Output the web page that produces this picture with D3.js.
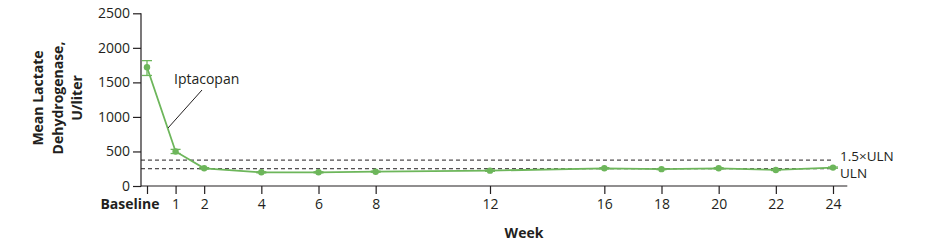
<!DOCTYPE html>
<html>
<head>
<meta charset="utf-8">
<script src="https://cdn.jsdelivr.net/npm/d3@7"></script>
<style>
	body { margin: 0; background: #fff; }
	text { font-family: "Open Sans", sans-serif; fill: #231f20; }
</style>
</head>
<body>
<svg id="chart" width="925" height="247"></svg>
<script>
// weeks and mean LDH (U/liter)
var weeks = [0, 1, 2, 4, 6, 8, 12, 16, 18, 20, 22, 24];
var weekLabels = ['Baseline', '1', '2', '4', '6', '8', '12', '16', '18', '20', '22', '24'];
var meanLdh = [1718, 500, 256, 198, 198, 207, 222, 256, 244, 256, 232, 266];
var errLow = [1600, 470, 246, 190, 190, 199, 213, 247, 236, 247, 224, 257];
var errHigh = [1815, 530, 266, 206, 206, 215, 231, 265, 252, 265, 240, 275];
var yTicks = [0, 500, 1000, 1500, 2000, 2500];
var refNames = ['1.5\u00d7ULN', 'ULN'];
var refValues = [375, 250];

var green = '#6db65b';
var ink = '#231f20';

var svg = d3.select('#chart');

var x = d3.scaleLinear().domain([0, 24]).range([147, 833]);
var y = d3.scaleLinear().domain([0, 2500]).range([186, 13.3]);
var axisX = x(-0.21);

// reference lines
refValues.forEach(function(v, i) {
	svg.append('line')
		.attr('x1', axisX).attr('x2', x(24))
		.attr('y1', y(v)).attr('y2', y(v))
		.style('stroke', ink)
		.style('stroke-width', 1)
		.style('stroke-dasharray', '4,3');
	svg.append('text')
		.attr('x', x(24) + 7)
		.attr('y', y(v) + (i == 0 ? 0.5 : 9.5))
		.style('font-size', '13.5px')
		.text(refNames[i]);
});

// y axis
var yAxis = svg.append('g')
	.attr('transform', 'translate(' + axisX + ',0)')
	.call(d3.axisLeft(y).tickValues(yTicks).tickSize(8).tickPadding(3).tickFormat(d3.format('d')));
yAxis.select('.domain').remove();
yAxis.selectAll('line').style('stroke', ink).style('stroke-width', 1.2);
yAxis.selectAll('text').style('font-size', '14px').style('font-family', '"Open Sans", sans-serif').attr('fill', ink);
svg.append('line')
	.attr('x1', axisX).attr('x2', axisX)
	.attr('y1', y(0) + 0.5).attr('y2', y(2500))
	.style('stroke', ink).style('stroke-width', 1.2);

// x axis
var xAxis = svg.append('g')
	.attr('transform', 'translate(0,' + y(0) + ')')
	.call(d3.axisBottom(x).tickValues(weeks).tickSize(8).tickPadding(5)
		.tickFormat(function(d, i) { return weekLabels[i]; }));
xAxis.select('.domain').remove();
xAxis.selectAll('line').style('stroke', ink).style('stroke-width', 1.2);
xAxis.selectAll('text').style('font-size', '14px').style('font-family', '"Open Sans", sans-serif').attr('fill', ink);
xAxis.selectAll('.tick').filter(function(d) { return d == 0; }).select('text')
	.attr('text-anchor', 'end')
	.attr('x', 12)
	.style('font-weight', 'bold');
svg.append('line')
	.attr('x1', axisX).attr('x2', x(24.5))
	.attr('y1', y(0)).attr('y2', y(0))
	.style('stroke', ink).style('stroke-width', 1.2);

// axis titles
svg.append('text')
	.attr('x', 524).attr('y', 238)
	.attr('text-anchor', 'middle')
	.style('font-size', '14px')
	.style('font-weight', 'bold')
	.text('Week');

var yTitle = svg.append('text')
	.attr('transform', 'translate(43,98) rotate(-90)')
	.attr('text-anchor', 'middle')
	.style('font-size', '14px')
	.style('font-weight', 'bold');
['Mean Lactate', 'Dehydrogenase,', 'U/liter'].forEach(function(s, i) {
	yTitle.append('tspan').attr('x', 0).attr('dy', i == 0 ? 0 : 19.5).text(s);
});

// series
var idx = d3.range(weeks.length);
var line = d3.line()
	.x(function(i) { return x(weeks[i]); })
	.y(function(i) { return y(meanLdh[i]); });

var bars = svg.append('g').attr('class', 'errorbars');
idx.forEach(function(i) {
	var cx = x(weeks[i]);
	bars.append('line')
		.attr('x1', cx).attr('x2', cx)
		.attr('y1', y(errLow[i])).attr('y2', y(errHigh[i]));
	[errLow[i], errHigh[i]].forEach(function(v) {
		bars.append('line')
			.attr('x1', cx - 5).attr('x2', cx + 5)
			.attr('y1', y(v)).attr('y2', y(v));
	});
});
bars.selectAll('line').style('stroke', green).style('stroke-width', 1.3);

svg.append('path')
	.attr('d', line(idx))
	.style('fill', 'none')
	.style('stroke', green)
	.style('stroke-width', 1.8);

svg.append('g').selectAll('circle')
	.data(idx)
	.enter().append('circle')
	.attr('cx', function(i) { return x(weeks[i]); })
	.attr('cy', function(i) { return y(meanLdh[i]); })
	.attr('r', 3.2)
	.style('fill', green);

// series label with leader line
svg.append('line')
	.attr('x1', 202).attr('x2', 168)
	.attr('y1', 90).attr('y2', 128)
	.style('stroke', ink).style('stroke-width', 1);
svg.append('text')
	.attr('x', 174).attr('y', 84)
	.style('font-size', '14px')
	.text('Iptacopan');
</script>
</body>
</html>
